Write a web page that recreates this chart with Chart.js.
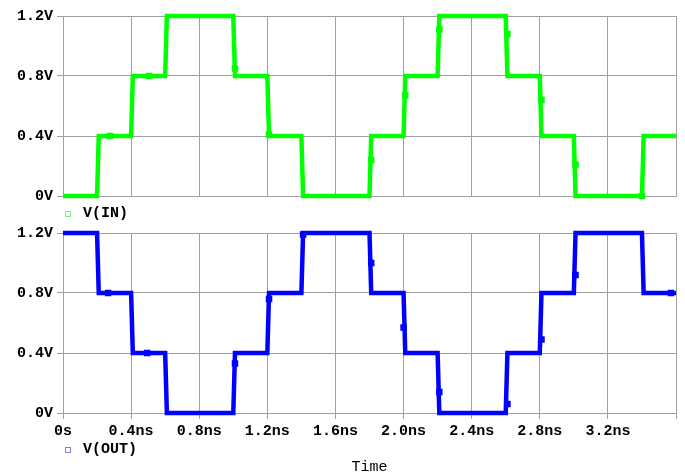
<!DOCTYPE html>
<html>
<head>
<meta charset="utf-8">
<script src="https://cdn.jsdelivr.net/npm/chart.js@4/dist/chart.umd.min.js"></script>
<style>
  html, body { margin: 0; padding: 0; background: #fff; }
  #wrap { position: relative; width: 685px; height: 475px; overflow: hidden; }
  #topBox { position: absolute; left: 0; top: 0; width: 685px; height: 230px; }
  #botBox { position: absolute; left: 0; top: 217px; width: 685px; height: 258px; }
  .leg { position: absolute; left: 83px; font: bold 15px "Liberation Mono", monospace; color: #000; line-height: 16px; }
  .sq { position: absolute; left: 65px; width: 4px; height: 4px; border: 1px solid; }
</style>
</head>
<body>
<div id="wrap">
  <div id="topBox"><canvas id="topChart"></canvas></div>
  <div id="botBox"><canvas id="botChart"></canvas></div>
  <div class="sq" style="top:211px;border-color:#80f080"></div>
  <div class="leg" style="top:206px">V(IN)</div>
  <div class="sq" style="top:447px;border-color:#8080f0"></div>
  <div class="leg" style="top:442px">V(OUT)</div>
</div>
<script>
// time axis in ns, voltages in V
const timeNs = [0, 0.2, 0.21, 0.4, 0.41, 0.6, 0.61, 1.0, 1.01, 1.2, 1.21, 1.4, 1.41, 1.8,
  1.81, 2.0, 2.01, 2.2, 2.21, 2.6, 2.61, 2.8, 2.81, 3.0, 3.01, 3.4, 3.41, 3.6];
const vIn = [0, 0, 0.4, 0.4, 0.8, 0.8, 1.2, 1.2, 0.8, 0.8, 0.4, 0.4, 0, 0,
  0.4, 0.4, 0.8, 0.8, 1.2, 1.2, 0.8, 0.8, 0.4, 0.4, 0, 0, 0.4, 0.4];
const vOut = [1.2, 1.2, 0.8, 0.8, 0.4, 0.4, 0, 0, 0.4, 0.4, 0.8, 0.8, 1.2, 1.2,
  0.8, 0.8, 0.4, 0.4, 0, 0, 0.4, 0.4, 0.8, 0.8, 1.2, 1.2, 0.8, 0.8];

// trace symbols (PSpice markers)
const inMarkT = [0.276, 0.506, 1.01, 1.21, 1.81, 2.01, 2.21, 2.61, 2.81, 3.01, 3.40];
const inMarkV = [0.4, 0.8, 0.85, 0.41, 0.24, 0.67, 1.11, 1.08, 0.64, 0.21, 0.0];
const outMarkT = [0.265, 0.494, 1.01, 1.21, 1.41, 1.81, 2.0, 2.21, 2.61, 2.81, 3.01, 3.57];
const outMarkV = [0.8, 0.4, 0.33, 0.76, 1.19, 1.0, 0.57, 0.14, 0.06, 0.49, 0.92, 0.8];

const xTicks = [0, 0.4, 0.8, 1.2, 1.6, 2.0, 2.4, 2.8, 3.2];
const yTicks = [0, 0.4, 0.8, 1.2];

const FONT = { family: "'Liberation Mono', monospace", size: 15, weight: 'bold' };
const GRID = '#a0a0a0';

const pts = (xs, ys) => xs.map((x, i) => ({ x: x, y: ys[i] }));

function makeChart(id, color, line, marks, showX) {
  return new Chart(document.getElementById(id), {
    type: 'line',
    data: {
      datasets: [
        {
          data: line,
          borderColor: color,
          borderWidth: 4.5,
          pointRadius: 0,
          tension: 0,
          clip: false
        },
        {
          data: marks,
          showLine: false,
          pointStyle: 'rect',
          pointRadius: 4.6,
          pointBackgroundColor: color,
          pointBorderWidth: 0,
          clip: false
        }
      ]
    },
    options: {
      responsive: true,
      maintainAspectRatio: false,
      animation: false,
      events: [],
      layout: { padding: { top: 16, right: 9, left: 0, bottom: 0 } },
      plugins: { legend: { display: false }, tooltip: { enabled: false } },
      scales: {
        x: {
          type: 'linear',
          min: 0,
          max: 3.6,
          afterBuildTicks: (s) => { s.ticks = xTicks.concat([3.6]).map(v => ({ value: v })); },
          afterFit: (s) => { s.height = showX ? 62 : 34; },
          grid: { color: GRID, lineWidth: 1, drawTicks: showX, tickLength: 6 },
          border: { color: GRID },
          ticks: {
            display: showX,
            color: '#000',
            font: FONT,
            padding: 3,
            maxRotation: 0,
            autoSkip: false,
            callback: (v) => v === 0 ? '0s' : (v > 3.5 ? '' : v.toFixed(1) + 'ns')
          },
          title: {
            display: showX,
            text: 'Time',
            color: '#000',
            font: { family: "'Liberation Mono', monospace", size: 15, lineHeight: 1 },
            padding: { top: 0, bottom: 0 }
          }
        },
        y: {
          min: 0,
          max: 1.2,
          afterBuildTicks: (s) => { s.ticks = yTicks.map(v => ({ value: v })); },
          afterFit: (s) => { s.width = 63; },
          grid: { color: GRID, lineWidth: 1, tickLength: 6 },
          border: { color: GRID },
          ticks: {
            color: '#000',
            font: FONT,
            padding: 4,
            callback: (v) => v === 0 ? '0V' : v.toFixed(1) + 'V'
          }
        }
      }
    }
  });
}

makeChart('topChart', '#00ff00', pts(timeNs, vIn), pts(inMarkT, inMarkV), false);
makeChart('botChart', '#0000ff', pts(timeNs, vOut), pts(outMarkT, outMarkV), true);
</script>
</body>
</html>
